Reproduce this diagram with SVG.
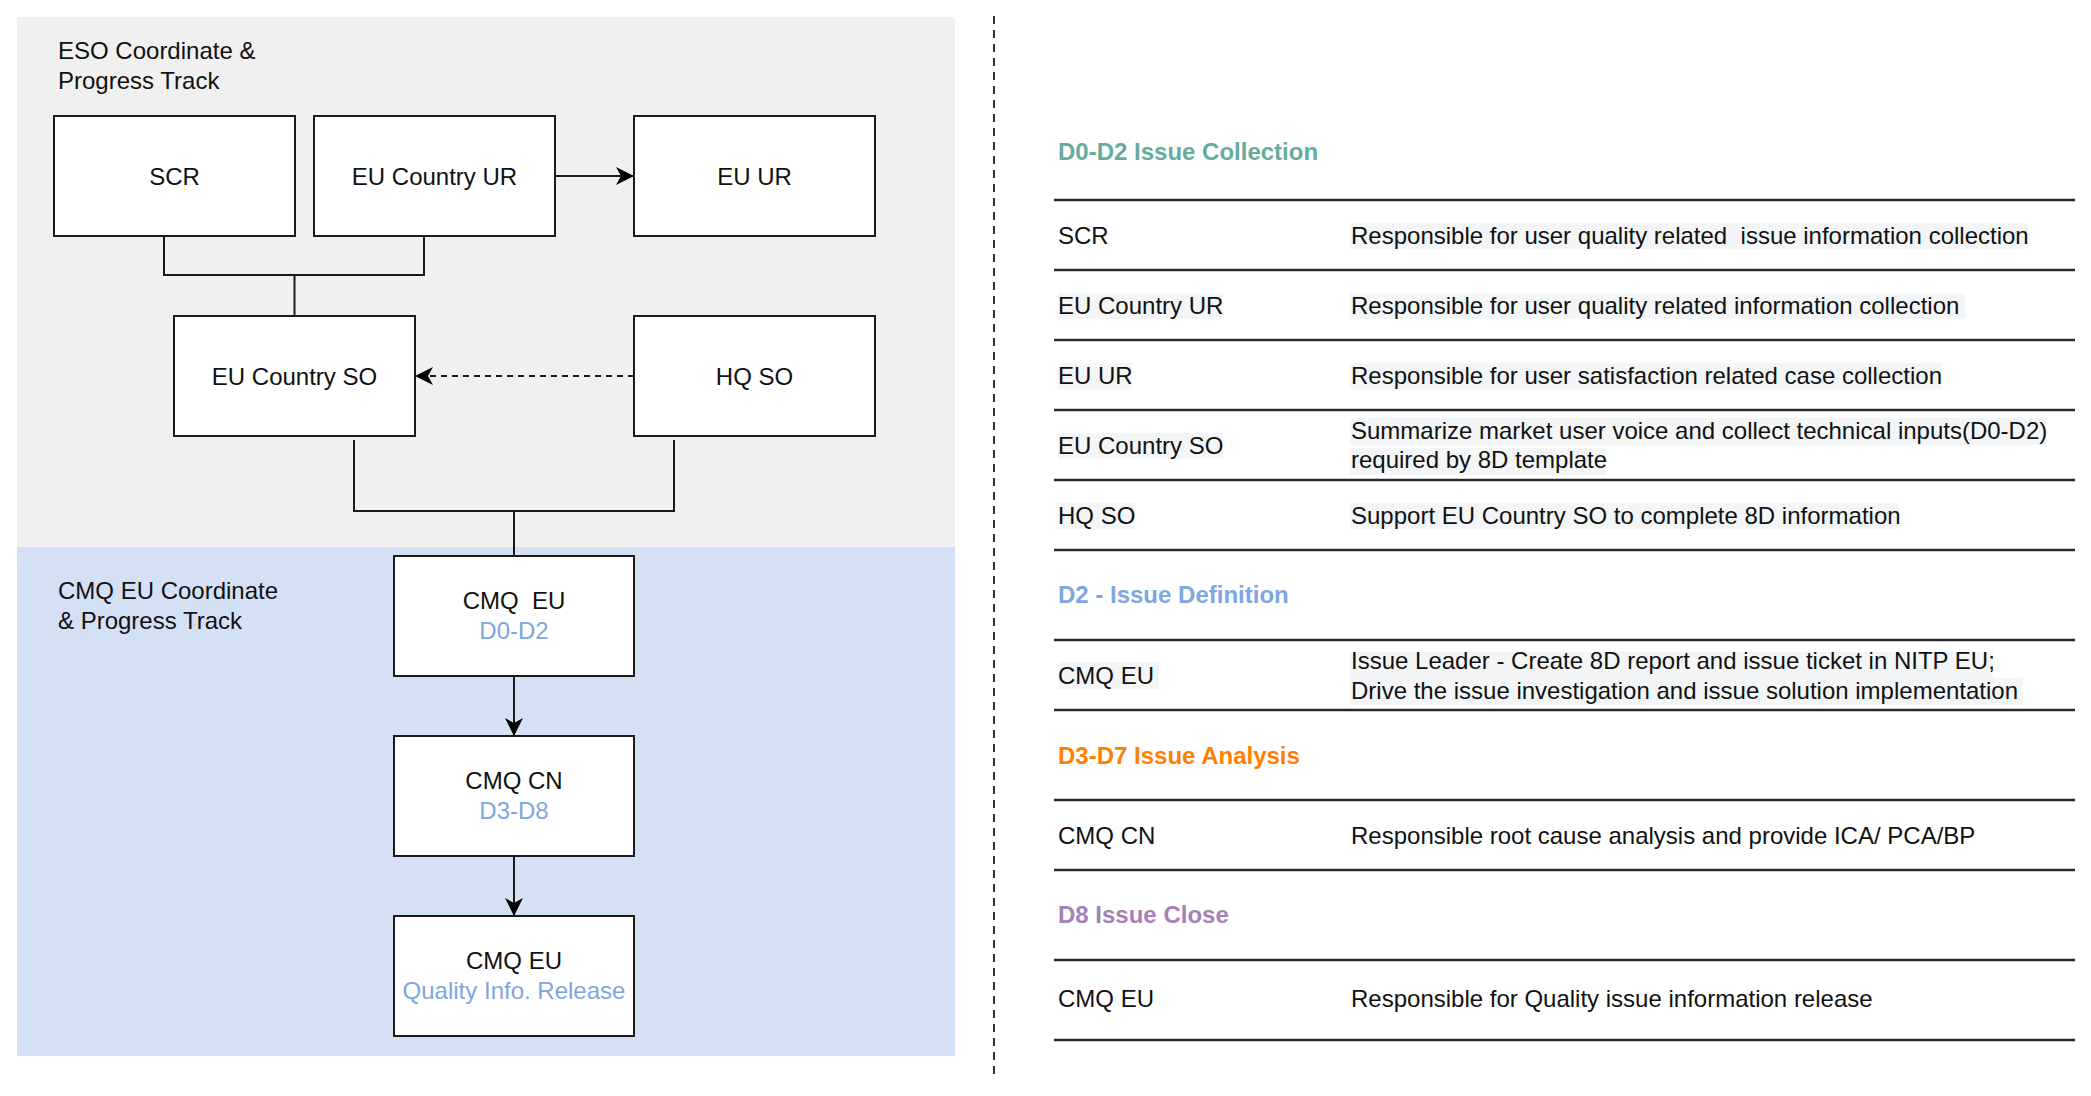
<svg xmlns="http://www.w3.org/2000/svg" width="2091" height="1096" viewBox="0 0 2091 1096">
<style>
  text { font-family: "Liberation Sans", Arial, sans-serif; font-size: 24px; fill: #111; }
  .c { text-anchor: middle; }
  .pre { white-space: pre; }
  .sub { fill: #7EA6E0; }
  .box { fill: #FFFFFF; stroke: #1a1a1a; stroke-width: 2; }
  .wire { fill: none; stroke: #1a1a1a; stroke-width: 2; }
  .dash { stroke-dasharray: 6 5; }
  .rule { stroke: #2b2b2b; stroke-width: 2.5; }
  .hl { fill: #F3F5F7; }
  .h { font-weight: bold; }
</style>
<defs>
  <marker id="arr" viewBox="0 0 20 20" refX="19" refY="10" markerWidth="20" markerHeight="20" markerUnits="userSpaceOnUse" orient="auto">
    <path d="M1,1 L19,10 L1,19 L6,10 Z" fill="#000"/>
  </marker>
</defs>

<!-- backgrounds -->
<rect x="17" y="17" width="938" height="530" fill="#F0F0F0"/>
<rect x="17" y="547" width="938" height="509" fill="#D4E1F5"/>
<text x="58" y="59">ESO Coordinate &amp;</text>
<text x="58" y="89">Progress Track</text>
<text x="58" y="599">CMQ EU Coordinate</text>
<text x="58" y="629">&amp; Progress Track</text>

<!-- divider -->
<line x1="994" y1="16" x2="994" y2="1076" stroke="#333" stroke-width="2" stroke-dasharray="8 6"/>

<!-- connectors -->
<g id="connectors">
  <path class="wire" d="M164,237 V275 H424 V237"/>
  <path class="wire" d="M294.5,275 V316"/>
  <path class="wire" d="M555,176 H634" marker-end="url(#arr)"/>
  <path class="wire dash" d="M634,376 H415" marker-end="url(#arr)"/>
  <path class="wire" d="M354,440 V511 H674 V440"/>
  <path class="wire" d="M514,511 V556"/>
  <path class="wire" d="M514,676 V736" marker-end="url(#arr)"/>
  <path class="wire" d="M514,856 V916" marker-end="url(#arr)"/>
</g>

<!-- nodes -->
<g id="node-scr"><rect class="box" x="54" y="116" width="241" height="120"/><text class="c" x="174.5" y="184.5">SCR</text></g>
<g id="node-eu-country-ur"><rect class="box" x="314" y="116" width="241" height="120"/><text class="c" x="434.5" y="184.5">EU Country UR</text></g>
<g id="node-eu-ur"><rect class="box" x="634" y="116" width="241" height="120"/><text class="c" x="754.5" y="184.5">EU UR</text></g>
<g id="node-eu-country-so"><rect class="box" x="174" y="316" width="241" height="120"/><text class="c" x="294.5" y="384.5">EU Country SO</text></g>
<g id="node-hq-so"><rect class="box" x="634" y="316" width="241" height="120"/><text class="c" x="754.5" y="384.5">HQ SO</text></g>
<g id="node-cmq-eu-d0d2"><rect class="box" x="394" y="556" width="240" height="120"/><text class="c pre" x="514" y="609">CMQ  EU</text><text class="c sub" x="514" y="639">D0-D2</text></g>
<g id="node-cmq-cn"><rect class="box" x="394" y="736" width="240" height="120"/><text class="c" x="514" y="789">CMQ CN</text><text class="c sub" x="514" y="819">D3-D8</text></g>
<g id="node-cmq-eu-release"><rect class="box" x="394" y="916" width="240" height="120"/><text class="c" x="514" y="969">CMQ EU</text><text class="c sub" x="514" y="999">Quality Info. Release</text></g>

<!-- table -->
<g id="table">
  <text class="h" x="1058" y="160" style="fill:#67AB9F">D0-D2 Issue Collection</text>
  <line class="rule" x1="1054" y1="200" x2="2075" y2="200"/>
  <rect class="hl" x="1350" y="223" width="678" height="26"/>
  <text x="1058" y="243.5">SCR</text>
  <text class="pre" x="1351" y="243.5">Responsible for user quality related  issue information collection</text>
  <line class="rule" x1="1054" y1="270" x2="2075" y2="270"/>
  <rect class="hl" x="1058" y="293" width="165" height="26"/>
  <rect class="hl" x="1350" y="293" width="615" height="26"/>
  <text x="1058" y="313.5">EU Country UR</text>
  <text x="1351" y="313.5">Responsible for user quality related information collection</text>
  <line class="rule" x1="1054" y1="340" x2="2075" y2="340"/>
  <rect class="hl" x="1058" y="363" width="74" height="26"/>
  <rect class="hl" x="1350" y="363" width="592" height="26"/>
  <text x="1058" y="383.5">EU UR</text>
  <text x="1351" y="383.5">Responsible for user satisfaction related case collection</text>
  <line class="rule" x1="1054" y1="410" x2="2075" y2="410"/>
  <rect class="hl" x="1058" y="433" width="165" height="26"/>
  <rect class="hl" x="1350" y="418" width="697" height="27"/>
  <rect class="hl" x="1350" y="448" width="256" height="27"/>
  <text x="1058" y="453.5">EU Country SO</text>
  <text x="1351" y="439">Summarize market user voice and collect technical inputs(D0-D2)</text>
  <text x="1351" y="468">required by 8D template</text>
  <line class="rule" x1="1054" y1="480" x2="2075" y2="480"/>
  <rect class="hl" x="1058" y="503" width="77" height="26"/>
  <rect class="hl" x="1350" y="503" width="549" height="26"/>
  <text x="1058" y="523.5">HQ SO</text>
  <text x="1351" y="523.5">Support EU Country SO to complete 8D information</text>
  <line class="rule" x1="1054" y1="550" x2="2075" y2="550"/>

  <text class="h" x="1058" y="603" style="fill:#7EA6E0">D2 - Issue Definition</text>
  <line class="rule" x1="1054" y1="640" x2="2075" y2="640"/>
  <rect class="hl" x="1058" y="662" width="101" height="27"/>
  <rect class="hl" x="1350" y="652" width="643" height="26"/>
  <rect class="hl" x="1350" y="678" width="673" height="27"/>
  <text x="1058" y="683.5">CMQ EU</text>
  <text x="1351" y="669">Issue Leader - Create 8D report and issue ticket in NITP EU;</text>
  <text x="1351" y="698.5">Drive the issue investigation and issue solution implementation</text>
  <line class="rule" x1="1054" y1="710" x2="2075" y2="710"/>

  <text class="h" x="1058" y="763.5" style="fill:#FF8000">D3-D7 Issue Analysis</text>
  <line class="rule" x1="1054" y1="800" x2="2075" y2="800"/>
  <text x="1058" y="843.5">CMQ CN</text>
  <text x="1351" y="843.5">Responsible root cause analysis and provide ICA/ PCA/BP</text>
  <line class="rule" x1="1054" y1="870" x2="2075" y2="870"/>

  <text class="h" x="1058" y="923" style="fill:#A680B8">D8 Issue Close</text>
  <line class="rule" x1="1054" y1="960" x2="2075" y2="960"/>
  <text x="1058" y="1007">CMQ EU</text>
  <text x="1351" y="1007">Responsible for Quality issue information release</text>
  <line class="rule" x1="1054" y1="1040" x2="2075" y2="1040"/>
</g>
</svg>
